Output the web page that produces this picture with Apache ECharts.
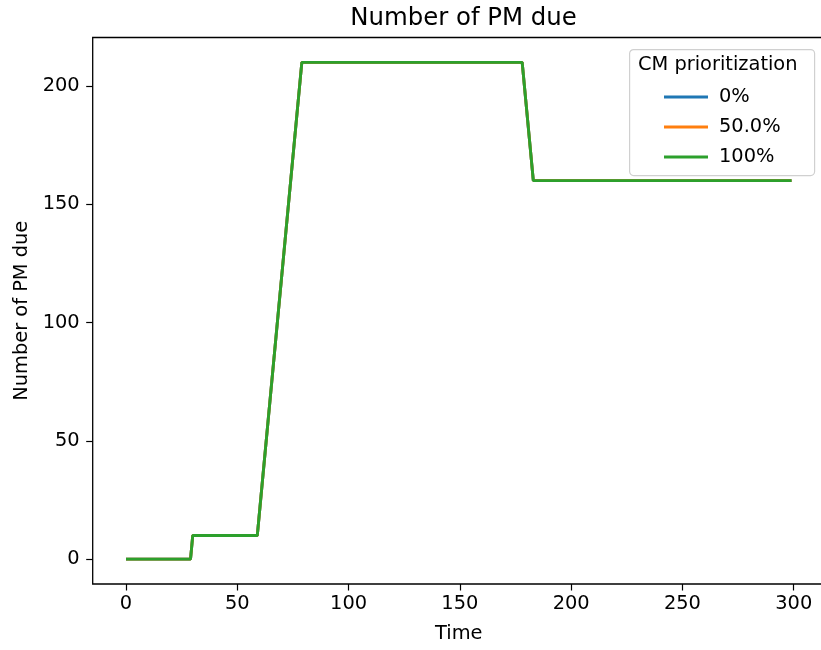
<!DOCTYPE html>
<html>
<head>
<meta charset="utf-8">
<script src="https://cdn.jsdelivr.net/npm/echarts@6/dist/echarts.min.js"></script>
<style>
  html, body { margin: 0; padding: 0; background: #fff; }
  #main { width: 821px; height: 650px; }
</style>
</head>
<body>
<div id="main"></div>
<script>
// data (corner points of the step curve)
var timeVals = [0, 29, 30, 59, 79, 178, 183, 299]
var pmDue = [0, 0, 10, 10, 210, 210, 160, 160]
var seriesNames = ['0%', '50.0%', '100%']
var seriesColors = ['#1f77b4', '#ff7f0e', '#2ca02c']
var xTicks = [0, 50, 100, 150, 200, 250, 300]
var yTicks = [0, 50, 100, 150, 200]

var font = 'DejaVu Sans'
var chart = echarts.init(document.getElementById('main'))

function pairs() {
  return timeVals.map(function (t, i) { return [t, pmDue[i]] })
}

var series = seriesNames.map(function (name, i) {
  return {
    name: name,
    type: 'line',
    data: pairs(),
    showSymbol: false,
    symbol: 'none',
    lineStyle: { color: seriesColors[i], width: 2.9 },
    itemStyle: { color: seriesColors[i] },
    z: 2 + i,
    animation: false
  }
})

chart.setOption({
  animation: false,
  title: {
    text: 'Number of PM due',
    left: 458.5, top: 2, textAlign: 'center',
    textStyle: { fontFamily: font, fontSize: 24.4, fontWeight: 'normal', color: '#000' }
  },
  grid: {
    left: 92.7, right: -3.8, top: 37.5, bottom: 66,
    outerBoundsMode: 'none',
    show: true, borderColor: '#000', borderWidth: 1.3, backgroundColor: 'transparent'
  },
  xAxis: {
    type: 'value',
    min: -14.95, max: 313.95,
    name: 'Time', nameLocation: 'middle', nameGap: 40,
    nameTextStyle: { fontFamily: font, fontSize: 19.4, color: '#000' },
    axisLine: { show: false, onZero: false },
    axisTick: { show: true, length: 6.5, lineStyle: { color: '#000', width: 1.2 }, customValues: xTicks },
    axisLabel: { fontFamily: font, fontSize: 19.4, color: '#000', margin: 10, customValues: xTicks },
    splitLine: { show: false }
  },
  yAxis: {
    type: 'value',
    min: -10.5, max: 220.5,
    name: 'Number of PM due', nameLocation: 'middle', nameGap: 61, nameRotate: 90,
    nameTextStyle: { fontFamily: font, fontSize: 19.4, color: '#000' },
    axisLine: { show: false, onZero: false },
    axisTick: { show: true, length: 6.5, lineStyle: { color: '#000', width: 1.2 }, customValues: yTicks },
    axisLabel: { fontFamily: font, fontSize: 19.4, color: '#000', margin: 13, customValues: yTicks },
    splitLine: { show: false }
  },
  legend: {
    data: seriesNames,
    orient: 'vertical',
    left: 659, top: 81,
    icon: 'rect', itemWidth: 44, itemHeight: 3, itemGap: 8,
    textStyle: { fontFamily: font, fontSize: 19.4, color: '#000', padding: [0, 0, 0, 6], lineHeight: 22 },
    z: 10
  },
  graphic: [
    {
      type: 'rect', left: 629, top: 49, z: 5,
      shape: { width: 185, height: 126, r: 4 },
      style: { fill: 'rgba(255,255,255,0.8)', stroke: '#d0d0d0', lineWidth: 1.2 }
    },
    {
      type: 'text', left: 638, top: 55, z: 6,
      style: { text: 'CM prioritization', fontFamily: font, fontSize: 19.4, fill: '#000' }
    }
  ],
  series: series
})
</script>
</body>
</html>
